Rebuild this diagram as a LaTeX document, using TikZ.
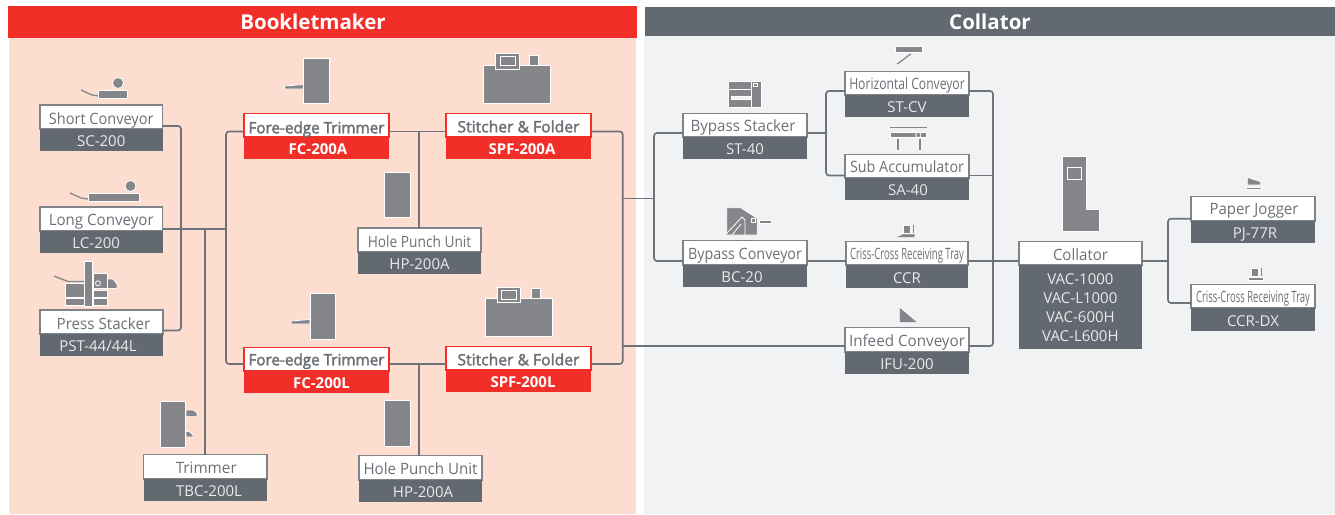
\documentclass[tikz,border=0pt]{standalone}
\usepackage{fontspec}
\usepackage{graphicx}
\setmainfont{Open Sans}
\newfontfamily\semif[FakeBold=2.2]{Open Sans}
\definecolor{redc}{HTML}{F22E29}
\definecolor{slatec}{HTML}{626970}
\definecolor{peachc}{HTML}{FCDDD0}
\definecolor{paleC}{HTML}{F1F2F4}
\definecolor{iconc}{HTML}{85868A}
\definecolor{linec}{HTML}{6D7378}
\definecolor{frameg}{HTML}{7E8488}
\definecolor{topt}{HTML}{6B7177}
\definecolor{bott}{HTML}{E8EAEB}
\tikzset{
  conn/.style={draw=linec,line width=1.7pt,rounded corners=3pt},
  icon/.style={fill=iconc,draw=white,line width=.8pt},
  iconline/.style={draw=iconc,line width=1.3pt},
  part/.style={rectangle,inner sep=0pt,outer sep=0pt,line width=1.4pt},
  lab/.style={inner sep=0pt,outer sep=0pt,anchor=base,font=\fontsize{15}{15}\selectfont},
  labt/.style={inner sep=0pt,outer sep=0pt,anchor=base,font=\fontsize{15.6}{15}\selectfont},
  head/.style={inner sep=0pt,outer sep=0pt,anchor=base,text=white,font=\fontsize{20.5}{20}\selectfont\bfseries},
}
\newcommand{\fitw}[2]{\resizebox{#1pt}{\height}{#2}}
\def\parsegeom#1,#2,#3,#4,#5\relax{%
  \pgfmathsetmacro{\cenx}{(#1+#3)/2}\pgfmathsetmacro{\boxw}{#3-#1}%
  \pgfmathsetmacro{\ceny}{(#2+#4)/2}\pgfmathsetmacro{\hta}{#4-#2}%
  \pgfmathsetmacro{\cenb}{(#4+#5)/2}\pgfmathsetmacro{\htb}{#5-#4}%
  \pgfmathsetmacro{\bta}{#4-4.7}\pgfmathsetmacro{\btb}{#5-4.2}}
% [top text dx][bottom text dx][top text dy]{name}{x0,y0,x1,ymid,y1}{top}{bottom}
\NewDocumentCommand{\greybox}{O{0} O{0} O{0} m m m m}{%
  \parsegeom#5\relax
  \pgfmathsetmacro{\xa}{\cenx+#1}\pgfmathsetmacro{\xb}{\cenx+#2}\pgfmathsetmacro{\bty}{\bta+#3}%
  \node[part,draw=frameg,fill=white,minimum width=\boxw pt,minimum height=\hta pt] (#4) at (\cenx,\ceny) {};
  \node[part,fill=slatec,minimum width=\boxw pt,minimum height=\htb pt] (#4-b) at (\cenx,\cenb) {};
  \node[labt,text=topt] (#4-t) at (\xa,\bty) {#6};
  \node[lab,text=bott] (#4-l) at (\xb,\btb) {#7};
}
\NewDocumentCommand{\redbox}{O{0} O{0} O{0} m m m m}{%
  \parsegeom#5\relax
  \pgfmathsetmacro{\xa}{\cenx+#1}\pgfmathsetmacro{\xb}{\cenx+#2}\pgfmathsetmacro{\bty}{\bta+#3}%
  \node[part,draw=redc,fill=white,minimum width=\boxw pt,minimum height=\hta pt] (#4) at (\cenx,\ceny) {};
  \node[part,fill=redc,minimum width=\boxw pt,minimum height=\htb pt] (#4-b) at (\cenx,\cenb) {};
  \node[labt,text=topt] (#4-t) at (\xa,\bty) {\semif #6};
  \node[lab,text=white] (#4-l) at (\xb,\btb) {\bfseries #7};
}
\begin{document}
\begin{tikzpicture}[x=1pt,y=-1pt]
\useasboundingbox (0,0) rectangle (1335,514);
% panels
\fill[peachc] (9,38) rectangle (636,514);
\fill[redc] (8,6) rectangle (636.5,38);
\fill[paleC] (644,36) rectangle (1335,514);
\fill[slatec] (645,7) rectangle (1335,36);
\node[head] (hbook) at (313,29) {Bookletmaker};
\node[head] (hcoll) at (990,29) {Collator};
% boxes
\greybox{sc}{40,105,162.5,129,151}{\fitw{104.5}{Short Conveyor}}{SC-200}
\greybox[0][-5][-0.6]{lc}{40,207,162.5,231,253}{\fitw{105}{Long Conveyor}}{LC-200}
\greybox[2][-3.5]{pst}{40,310,163,334,356}{\fitw{93.5}{Press Stacker}}{PST-44/44L}
\greybox[1][3.8][-1]{tbc}{143.5,454.5,267,479,501}{\fitw{61}{Trimmer}}{TBC-200L}
\redbox[0][1.5][1]{fca}{244,113.5,389,137,159}{\fitw{136}{Fore-edge Trimmer}}{FC-200A}
\redbox[0][5][-1]{fcl}{244,347.5,389,371,393}{\fitw{136}{Fore-edge Trimmer}}{FC-200L}
\redbox[0][3.5]{spa}{446,113.5,591,137,159}{\fitw{122}{Stitcher \& Folder}}{SPF-200A}
\redbox[0][4.5]{spl}{446,346.5,591,370,392}{\fitw{122}{Stitcher \& Folder}}{SPF-200L}
\greybox{hpa}{358,228,481,252,274}{\fitw{103.5}{Hole Punch Unit}}{HP-200A}
\greybox[0][2.5][-1.3]{hpl}{359,455.5,482,480,502}{\fitw{114}{Hole Punch Unit}}{HP-200A}
\greybox[-2][0][-1.3]{bs}{683,113.5,807,137,159}{\fitw{105}{Bypass Stacker}}{ST-40}
\greybox[0][0][-1.3]{stcv}{845,71.5,969,95,117}{\fitw{115.5}{Horizontal Conveyor}}{ST-CV}
\greybox[0][1][-0.6]{sa}{845,154.5,969,178,200}{\fitw{114}{Sub Accumulator}}{SA-40}
\greybox[0][-3][-1.3]{bc}{683,240.5,807,265,287}{\fitw{114}{Bypass Conveyor}}{BC-20}
\greybox[0][0][-1]{ccr}{846,241.5,968,265,288}{\fitw{114}{Criss-Cross Receiving Tray}}{CCR}
\greybox[0][0][-1.3]{ifu}{845,327.5,969,352,374}{\fitw{116}{Infeed Conveyor}}{IFU-200}
\greybox{vac}{1019,241.5,1142,265,349}{\fitw{55}{Collator}}{}
\node[lab,text=bott] (vac1) at (1080.4,284) {VAC-1000};
\node[lab,text=bott] (vac2) at (1080.4,303) {VAC-L1000};
\node[lab,text=bott] (vac3) at (1080.4,322) {VAC-600H};
\node[lab,text=bott] (vac4) at (1080.4,341) {VAC-L600H};
\greybox[1][2][-2.3]{pj}{1191,196.5,1315,221,243}{\fitw{89}{Paper Jogger}}{PJ-77R}
\greybox[0][0][-1]{ccd}{1191,284.5,1315,308,331}{\fitw{114}{Criss-Cross Receiving Tray}}{CCR-DX}
% junction coordinates
\coordinate (jsc) at (181,228);
\coordinate (jfc) at (226,229);
\coordinate (jtb) at (205,229);
\coordinate (jha) at (418.7,131.5);
\coordinate (jhl) at (419,364);
\coordinate (jsp) at (622.7,198.5);
\coordinate (jby) at (654,198.5);
\coordinate (jst) at (826,133);
\coordinate (jout) at (993,261);
\coordinate (jcol) at (1168,261);
% connectors
\draw[conn] (sc.east |- 0,126) -| (jsc) |- (pst.east |- 0,330.5);
\draw[conn] (lc.east |- 0,229) -- (jfc);
\draw[conn] (jtb) -- (jtb |- tbc.north);
\draw[conn] (fca.west |- 0,131.5) -| (jfc) |- (fcl.west |- 0,364);
\draw[conn] (fca.east |- 0,131.5) -- (spa.west |- 0,131.5);
\draw[conn] (fcl.east |- 0,364) -- (spl.west |- 0,364);
\draw[conn] (jha) -- (jha |- hpa.north);
\draw[conn] (jhl) -- (jhl |- hpl.north);
\draw[conn] (spa.east |- 0,131.5) -| (jsp) |- (spl.east |- 0,364);
\draw[conn] (jsp) -- (jby);
\draw[conn] (bs.west |- 0,133) -| (jby) |- (bc.west |- 0,261);
\draw[conn] (jsp |- 0,345.7) -- (ifu.west |- 0,345.7);
\draw[conn] (bs.east |- 0,133) -- (jst);
\draw[conn] (stcv.west |- 0,91) -| (jst) |- (sa.west |- 0,175.5);
\draw[conn] (stcv.east |- 0,91) -| (jout) |- (ifu.east |- 0,346);
\draw[conn] (sa.east |- 0,175.5) -- (jout |- 0,175.5);
\draw[conn] (bc.east |- 0,261) -- (ccr.west |- 0,261);
\draw[conn] (ccr.east |- 0,261) -- (vac.west |- 0,261);
\draw[conn] (vac.east |- 0,261) -- (jcol);
\draw[conn] (pj.west |- 0,218.7) -| (jcol) |- (ccd.west |- 0,303);
% icons
% short conveyor
\draw[iconline] (81,90) -- (92,95) -- (98.5,96);
\draw[icon] (98.5,90.5) rectangle (127,98.5);
\draw[icon] (118,83) circle (5.5);
% long conveyor
\draw[iconline] (70,193) -- (81,198) -- (88,199);
\draw[icon] (88,193) rectangle (139,201);
\draw[icon] (130.5,186) circle (5.5);
% press stacker
\draw[iconline] (54,276) -- (68,281.5) -- (84,281.5);
\draw[icon] (65,283) rectangle (84,297);
\draw[icon] (65,298) rectangle (84,305);
\draw[icon] (84.7,261) rectangle (92.7,306);
\draw[icon] (107,279) -- (113,279) -- (117,284) -- (117,288.5) -- (107,288.5) -- cycle;
\draw[icon] (93,273) rectangle (107,288.5);
\draw[icon] (93,290) rectangle (107,297);
\draw[icon] (93,298) rectangle (107.5,305);
\draw[icon] (98,283.3) circle (2.5);
% trimmer
\draw[icon] (160,401) rectangle (185,447);
\draw[icon] (186,410) -- (193,410) -- (197,412.5) -- (197,416.7) -- (186,416.7) -- cycle;
\draw[icon] (186,431) -- (190,432) -- (193,435) -- (193,437) -- (186,437) -- cycle;
% fore-edge A
\draw[icon] (284.5,86) -- (304,84.5) -- (304,89) -- (284.5,89) -- cycle;
\draw[icon] (303.7,58) rectangle (329,103);
% fore-edge L
\draw[icon] (291,321) -- (310,319.5) -- (310,324) -- (291,324) -- cycle;
\draw[icon] (310,293) rectangle (335,339);
% stitcher A
\draw[icon] (529,55.7) rectangle (538.7,65.5);
\draw[icon] (483.7,65) rectangle (550.3,103);
\draw[icon] (495,53.7) rectangle (519,69);
\draw[icon] (500,56.7) rectangle (515,65.7);
% stitcher L
\draw[icon] (531,288.7) rectangle (540,298.5);
\draw[icon] (485,298) rectangle (552,336.5);
\draw[icon] (497,287) rectangle (520,302);
\draw[icon] (501.7,290) rectangle (516,299);
% hole punch
\draw[icon] (384,172) rectangle (410,217);
\draw[icon] (384.3,400.7) rectangle (410.3,446.3);
% bypass stacker
\draw[icon] (728,81) rectangle (761,107);
\draw[white,line width=.8pt] (728,89.5) -- (751.5,89.5);
\draw[white,line width=.8pt] (751.5,81) -- (751.5,107);
\draw[white,line width=.8pt,fill=paleC] (731.5,96.5) rectangle (751.5,99);
\draw[white,line width=.7pt] (753.5,83) rectangle (757,86.5);
% ST-CV
\draw[iconline] (897.3,64) -- (910.7,54);
\draw[icon] (895,46) rectangle (922.3,52.7);
% SA
\draw[iconline] (890,127.7) -- (926.7,127.7);
\draw[icon] (890.7,132.3) rectangle (926,137.7);
\draw[icon] (918.3,135) circle (2.7);
\draw[iconline] (898,139) -- (898,150);
\draw[iconline] (920,139) -- (920,150);
% BC
\draw[icon] (726.7,207.7) -- (740.7,207.7) -- (757.3,218.3) -- (757.3,235) -- (726.7,235) -- cycle;
\draw[white,line width=.8pt] (727,233) -- (742,217) -- (745,220) -- (745,235);
\draw[white,line width=.8pt] (732,235) -- (741,224);
\draw[icon] (751,218.7) rectangle (755,222.7);
\draw[icon] (759,220.3) rectangle (771.7,223.7);
% CCR
\draw[icon] (903.7,225) rectangle (910.7,233.3);
\draw[iconline] (913.7,225) -- (913.7,233);
\draw[icon] (894,237.7) -- (903.3,233.6) -- (915,233.6) -- (915,237.7) -- cycle;
% IFU
\draw[icon] (899.3,306.7) -- (918.3,322.7) -- (899.3,322.7) -- cycle;
% collator
\draw[icon] (1062.7,156.7) -- (1086.7,156.7) -- (1086.7,209) -- (1099,209) -- (1099,231) -- (1062.7,231) -- cycle;
\draw[icon] (1067.7,167.3) rectangle (1081,179.3);
% PJ
\draw[icon] (1247.3,177.3) -- (1260.7,181.7) -- (1260.7,185) -- (1247.3,185) -- cycle;
\draw[icon] (1246,187) rectangle (1261,189.7);
% CCR-DX
\draw[icon] (1251.3,268.3) rectangle (1258.7,276);
\draw[iconline] (1261.7,268.3) -- (1261.7,276);
\draw[icon] (1248.3,277.7) rectangle (1263.3,280.3);
\end{tikzpicture}
\end{document}
